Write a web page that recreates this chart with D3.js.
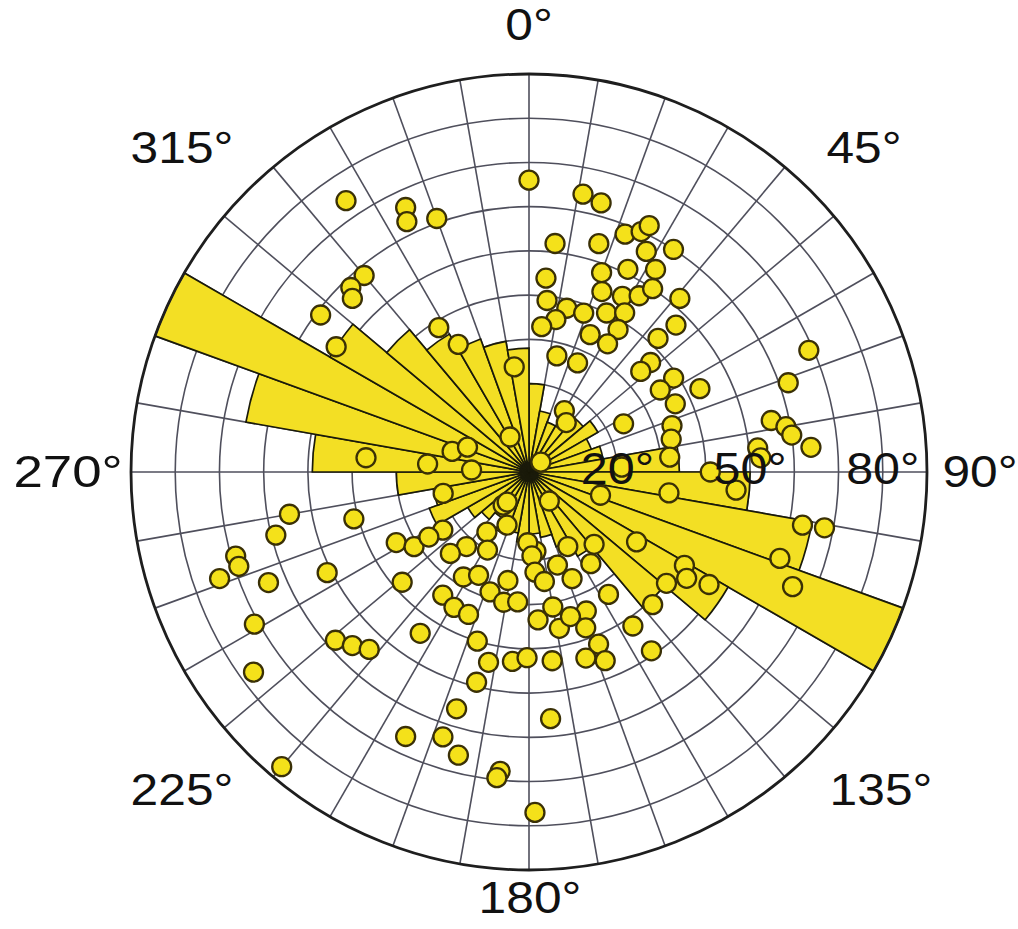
<!DOCTYPE html>
<html>
<head>
<meta charset="utf-8">
<script src="https://cdn.jsdelivr.net/npm/d3@7"></script>
<style>
  html, body { margin: 0; padding: 0; background: #ffffff; }
  svg { display: block; }
  text { font-family: "Liberation Sans", Arial, sans-serif; }
</style>
</head>
<body>
<svg id="chart" width="1018" height="929"></svg>
<script>
// Rose diagram: counts per 10° azimuth bin (plotted on the incidence-angle scale)
const binStarts = d3.range(0, 360, 10);
const binValues = [20, 14, 12, 12, 16, 18, 15, 17, 34, 50, 65, 90,
                   52, 40, 22, 18, 15, 14, 16, 14, 15, 12, 14, 16,
                   24, 22, 30, 49, 65, 90, 52, 42, 36, 32, 30, 28];

// Observations: [azimuth (deg), incidence angle (deg)]
const observations = [
  [0, 66], [326, 74], [335, 66], [334, 63], [340, 61], [11, 64], [15, 63], [6.5, 52], [17, 54],
  [22, 58], [25, 60], [26, 62], [33, 60], [28, 56.5], [5, 44], [20, 48], [26, 51], [32, 54],
  [22, 44], [28, 45], [32, 47], [34, 50], [41, 52], [6, 39], [13, 38], [19, 38], [26, 40],
  [31, 42], [10, 35], [5, 33], [24, 34], [32, 38], [31.5, 34], [45, 47], [44, 42], [13.5, 27],
  [24, 27], [48, 37], [48, 34], [57, 39], [58, 35], [64, 43], [65, 36.5], [66.5, 69], [71, 62],
  [78, 56], [80, 59], [82, 60], [85, 64], [84, 52], [86.5, 52.5], [72, 34], [77, 33], [63, 24],
  [30, 16], [37, 14], [50, 3.5], [84, 32], [90, 41], [95, 47], [101, 63], [100.7, 68], [98.5, 32],
  [108, 17], [87, 21], [331, 33], [352, 24], [320, 58], [316, 58], [314.5, 56], [307, 59],
  [303, 52], [328, 38.5], [275, 37], [274.5, 23], [285, 18], [292, 15], [331.5, 9], [272, 13],
  [260, 55], [255, 41], [256, 59], [254, 69], [252, 69], [251, 74], [247, 64], [243.5, 51],
  [241, 71], [234, 77], [229, 58], [225.5, 56], [222, 54], [229, 38], [214, 44], [242, 34],
  [237, 31], [215, 34], [209, 35], [203, 35], [194, 49], [197, 56], [197, 40], [192, 44],
  [185, 43], [205, 66], [198, 63], [194, 66], [220, 87], [185.5, 68], [186, 69.5], [179, 77],
  [175, 56], [123, 29], [109, 60], [113.5, 65], [121, 41], [124, 43], [122, 48], [129, 40],
  [137, 41], [147, 33], [146, 42], [145.6, 49], [145, 8], [152.5, 19], [138, 22], [146, 25],
  [158, 26], [170, 31], [157.6, 34], [158, 42], [169, 36], [163, 44], [158, 46], [173, 43],
  [175, 18], [236, 23.5], [237, 27], [215, 16.6], [218, 9.5], [202.5, 13], [220, 22],
  [208, 20], [224, 25.6], [181, 16], [178, 19], [212, 28], [206, 26], [191, 25], [198, 28.5],
  [176.6, 22.7], [163, 22], [172, 25], [191, 30], [185, 29.5], [164, 34], [176.5, 33.5],
  [160, 37.5], [180.6, 42], [256, 20], [216, 8.4]
];

// Axis ticks
const ringTicks = d3.range(10, 91, 10);
const spokeTicks = d3.range(0, 360, 10);
const azimuthLabels = [0, 45, 90, 135, 180, 225, 270, 315];
const radialLabels = [20, 50, 80];

const width = 1018, height = 929;
const cx = 529, cy = 472, R = 398;

// where each azimuth label's centre sits, relative to the pole (px)
const azLabelOffset = {
  0: [0, -447], 45: [335, -324], 90: [451, 0], 135: [352, 318],
  180: [1, 426], 225: [-347, 318], 270: [-461, 0], 315: [-347, -324]
};

const svg = d3.select("#chart");
const g = svg.append("g").attr("transform", `translate(${cx},${cy})`);

const r = d3.scaleLinear().domain([0, 90]).range([0, R]);
const ang = d3.scaleLinear().domain([0, 360]).range([0, 2 * Math.PI]);

const px = (az, v) => r(v) * Math.sin(ang(az));
const py = (az, v) => -r(v) * Math.cos(ang(az));

// grid
const gridColor = "#4f4f5c";
const grid = g.append("g").attr("class", "grid");
grid.selectAll("circle.ring")
  .data(ringTicks.filter(d => d < 90))
  .join("circle")
  .attr("class", "ring")
  .attr("r", d => r(d))
  .attr("fill", "none")
  .attr("stroke", gridColor)
  .attr("stroke-width", 1.6);
grid.selectAll("line.spoke")
  .data(spokeTicks)
  .join("line")
  .attr("class", "spoke")
  .attr("x1", 0).attr("y1", 0)
  .attr("x2", d => px(d, 90)).attr("y2", d => py(d, 90))
  .attr("stroke", gridColor)
  .attr("stroke-width", 1.6);

// rose bars
const arc = d3.arc()
  .innerRadius(0)
  .outerRadius(d => r(d.value))
  .startAngle(d => ang(d.start))
  .endAngle(d => ang(d.start + 10));

const bins = binStarts.map((s, i) => ({ start: s, value: binValues[i] }));
g.append("g").attr("class", "bars")
  .selectAll("path")
  .data(bins)
  .join("path")
  .attr("d", arc)
  .attr("fill", "#f3df24")
  .attr("stroke", "#1a1a0a")
  .attr("stroke-width", 1.7)
  .attr("stroke-linejoin", "miter");

// outer boundary
g.append("circle")
  .attr("r", R)
  .attr("fill", "none")
  .attr("stroke", "#1e1e1e")
  .attr("stroke-width", 2.8);

// observations
g.append("g").attr("class", "points")
  .selectAll("circle")
  .data(observations)
  .join("circle")
  .attr("cx", d => px(d[0], d[1]))
  .attr("cy", d => py(d[0], d[1]))
  .attr("r", 9.5)
  .attr("fill", "#f4e11a")
  .attr("stroke", "#3a3006")
  .attr("stroke-width", 2.3);

// azimuth labels (slightly wide lettering)
g.append("g").attr("class", "az-labels")
  .selectAll("text")
  .data(azimuthLabels)
  .join("text")
  .attr("transform", d => {
    const [dx, dy] = azLabelOffset[d];
    return `translate(${dx},${dy}) scale(${d === 270 ? 1.2 : 1.13},1)`;
  })
  .attr("text-anchor", "middle")
  .attr("dominant-baseline", "central")
  .attr("font-size", 44)
  .attr("fill", "#111")
  .text(d => d + "°");

// incidence-angle labels along the 90° spoke
g.append("g").attr("class", "r-labels")
  .selectAll("text")
  .data(radialLabels)
  .join("text")
  .attr("transform", d => `translate(${r(d)},-3) scale(1.1,1)`)
  .attr("text-anchor", "middle")
  .attr("dominant-baseline", "central")
  .attr("font-size", 44)
  .attr("fill", "#111")
  .text(d => d + "°");
</script>
</body>
</html>
